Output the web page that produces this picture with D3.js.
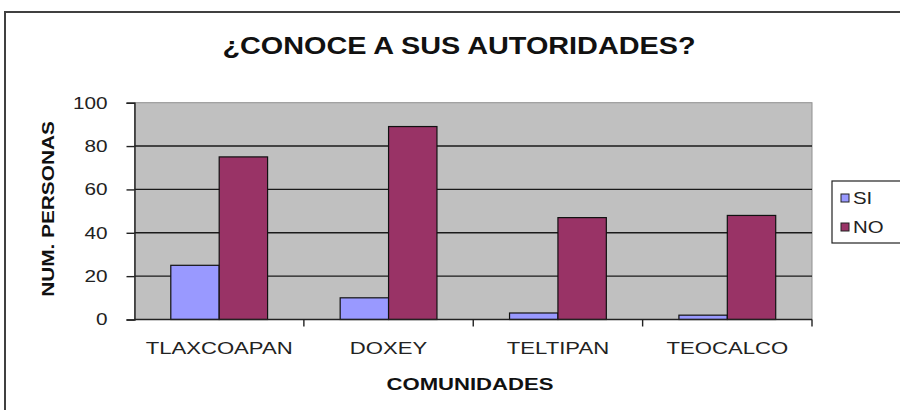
<!DOCTYPE html>
<html>
<head>
<meta charset="utf-8">
<script src="https://cdn.jsdelivr.net/npm/d3@7"></script>
<style>
  body { margin: 0; background: #fff; }
  text { font-family: "Liberation Sans", Arial, sans-serif; }
</style>
</head>
<body>
<div id="chart"></div>
<script>
var w = 900,
    h = 410;

var categories = ["TLAXCOAPAN", "DOXEY", "TELTIPAN", "TEOCALCO"];
var seriesNames = ["SI", "NO"];
var siValues = [25, 10, 3, 2];
var noValues = [75, 89, 47, 48];
var yTicks = [0, 20, 40, 60, 80, 100];

var colors = { SI: "#9999ff", NO: "#993366" };

var plot = { left: 134.5, right: 812, top: 102.7, bottom: 319.5 };

var svg = d3.select("#chart")
            .append("svg")
            .attr("width", w)
            .attr("height", h);

// stretch text horizontally like the (wide) original rendering
function stretch(sel, k) {
  sel.each(function() {
    var len = this.getComputedTextLength();
    d3.select(this)
      .attr("textLength", len * k)
      .attr("lengthAdjust", "spacingAndGlyphs");
  });
}

// outer frame
svg.append("path")
   .attr("d", "M5,410 V12 H900")
   .attr("fill", "none")
   .attr("stroke", "#404040")
   .attr("stroke-width", 2);

var x = d3.scaleBand()
          .domain(categories)
          .range([plot.left, plot.right])
          .padding(0);

var x1 = d3.scaleBand()
           .domain(seriesNames)
           .range([0, x.bandwidth()])
           .paddingInner(0)
           .paddingOuter(0.75);

var y = d3.scaleLinear()
          .domain([0, 100])
          .range([plot.bottom, plot.top]);

// plot area
svg.append("rect")
   .attr("x", plot.left)
   .attr("y", plot.top)
   .attr("width", plot.right - plot.left)
   .attr("height", plot.bottom - plot.top)
   .attr("fill", "#c0c0c0")
   .attr("stroke", "#909090")
   .attr("stroke-width", 1);

// gridlines
svg.selectAll("line.grid")
   .data(yTicks.filter(function(d) { return d > 0 && d < 100; }))
   .enter().append("line")
   .attr("class", "grid")
   .attr("x1", plot.left)
   .attr("x2", plot.right)
   .attr("y1", function(d) { return y(d); })
   .attr("y2", function(d) { return y(d); })
   .attr("stroke", "#1a1a1a")
   .attr("stroke-width", 1.4);

// bars
var rows = categories.map(function(c, i) {
  return { cat: c, values: [ { s: "SI", v: siValues[i] }, { s: "NO", v: noValues[i] } ] };
});

var groups = svg.selectAll("g.cat")
                .data(rows)
                .enter().append("g")
                .attr("class", "cat")
                .attr("transform", function(d) { return "translate(" + x(d.cat) + ",0)"; });

groups.selectAll("rect")
      .data(function(d) { return d.values; })
      .enter().append("rect")
      .attr("x", function(d) { return x1(d.s); })
      .attr("y", function(d) { return y(d.v); })
      .attr("width", x1.bandwidth())
      .attr("height", function(d) { return y(0) - y(d.v); })
      .attr("fill", function(d) { return colors[d.s]; })
      .attr("stroke", "#111")
      .attr("stroke-width", 1.2);

// y axis
var yAxis = svg.append("g")
               .attr("transform", "translate(" + plot.left + ",0)")
               .call(d3.axisLeft(y).tickValues(yTicks).tickSize(8).tickPadding(19));
yAxis.select(".domain").attr("stroke", "#222").attr("stroke-width", 1.4);
yAxis.selectAll(".tick line").attr("stroke", "#222").attr("stroke-width", 1.4);
yAxis.selectAll(".tick text")
     .attr("font-size", "17px")
     .attr("font-family", "Liberation Sans, Arial, sans-serif")
     .attr("fill", "#222")
     .call(stretch, 1.22);

// x axis: ticks at category boundaries
var xAxisG = svg.append("g");
xAxisG.append("line")
      .attr("x1", plot.left)
      .attr("x2", plot.right)
      .attr("y1", plot.bottom)
      .attr("y2", plot.bottom)
      .attr("stroke", "#222")
      .attr("stroke-width", 1.4);
xAxisG.selectAll("line.xt")
      .data(categories.slice(1).concat(["__end"]))
      .enter().append("line")
      .attr("class", "xt")
      .attr("x1", function(d) { return d === "__end" ? plot.right : x(d); })
      .attr("x2", function(d) { return d === "__end" ? plot.right : x(d); })
      .attr("y1", plot.bottom)
      .attr("y2", plot.bottom + 7)
      .attr("stroke", "#222")
      .attr("stroke-width", 1.4);
xAxisG.selectAll("text")
      .data(categories)
      .enter().append("text")
      .attr("x", function(d) { return x(d) + x.bandwidth() / 2; })
      .attr("y", 354)
      .attr("text-anchor", "middle")
      .attr("font-size", "17px")
      .attr("fill", "#222")
      .text(function(d) { return d; })
      .call(stretch, 1.3);

// title
svg.append("text")
   .attr("x", 459)
   .attr("y", 54)
   .attr("text-anchor", "middle")
   .attr("font-size", "24px")
   .attr("font-weight", "bold")
   .attr("fill", "#111")
   .text("¿CONOCE A SUS AUTORIDADES?")
   .call(stretch, 1.2);

// axis titles
svg.append("text")
   .attr("x", 470)
   .attr("y", 390)
   .attr("text-anchor", "middle")
   .attr("font-size", "17px")
   .attr("font-weight", "bold")
   .attr("fill", "#111")
   .text("COMUNIDADES")
   .call(stretch, 1.3);

svg.append("text")
   .attr("transform", "translate(54,209) rotate(-90)")
   .attr("text-anchor", "middle")
   .attr("font-size", "16px")
   .attr("font-weight", "bold")
   .attr("fill", "#111")
   .text("NUM. PERSONAS")
   .call(stretch, 1.3);

// legend
var legend = svg.append("g");
legend.append("rect")
      .attr("x", 832)
      .attr("y", 181)
      .attr("width", 80)
      .attr("height", 62)
      .attr("fill", "#fff")
      .attr("stroke", "#222")
      .attr("stroke-width", 1.2);

var items = legend.selectAll("g.item")
                  .data(seriesNames)
                  .enter().append("g")
                  .attr("class", "item")
                  .attr("transform", function(d, i) { return "translate(841," + (198 + i * 29) + ")"; });
items.append("rect")
     .attr("x", 0)
     .attr("y", -4)
     .attr("width", 8)
     .attr("height", 8)
     .attr("fill", function(d) { return colors[d]; })
     .attr("stroke", "#222")
     .attr("stroke-width", 1);
items.append("text")
     .attr("x", 12)
     .attr("y", 6)
     .attr("font-size", "17px")
     .attr("fill", "#222")
     .text(function(d) { return d; })
     .call(stretch, 1.2);
</script>
</body>
</html>
